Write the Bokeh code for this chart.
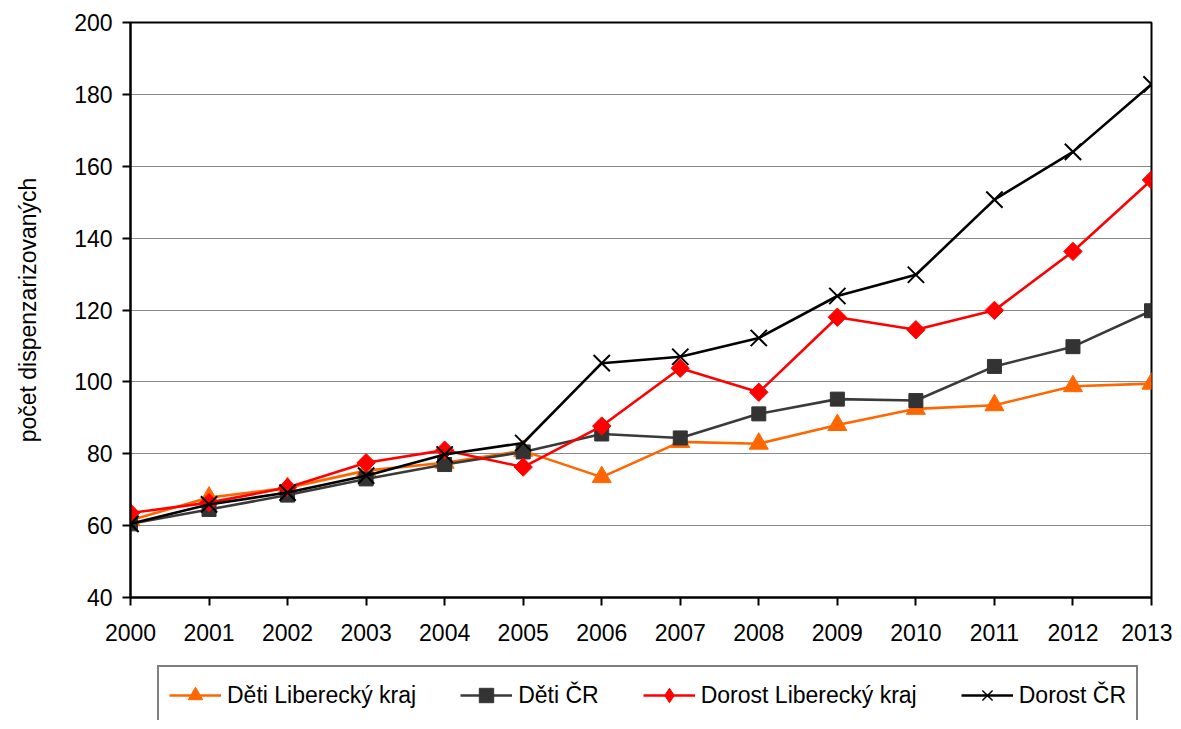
from bokeh.plotting import figure
from bokeh.layouts import column
from bokeh.models import FixedTicker, Legend, LegendItem, Range1d
from bokeh.embed import file_html
from bokeh.resources import INLINE

years = list(range(2000, 2014))
deti_lib = [61.5, 67.8, 70.5, 75.3, 77.5, 80.8, 73.5, 83.3, 82.8, 88.0, 92.5, 93.5, 98.8, 99.5]
deti_cr = [60.5, 64.5, 68.5, 73.0, 77.0, 80.5, 85.5, 84.4, 91.1, 95.2, 94.8, 104.3, 109.8, 119.8]
dorost_lib = [63.5, 66.4, 70.6, 77.5, 81.0, 76.3, 87.7, 103.8, 97.1, 118.0, 114.5, 119.9, 136.3, 156.2]
dorost_cr = [60.5, 65.9, 69.2, 73.9, 79.8, 83.0, 105.2, 107.0, 112.2, 123.9, 129.8, 150.7, 164.0, 182.8]
y_ticks = [40, 60, 80, 100, 120, 140, 160, 180, 200]
labels = ["Děti Liberecký kraj", "Děti ČR", "Dorost Liberecký kraj", "Dorost ČR"]
y_title = "počet dispenzarizovaných"

FONT = "Liberation Sans"
colors = ["#FF6600", "#3A3A3A", "#FF0000", "black"]
fills = ["#FF6600", "#333333", "#FF0000", "black"]

W = 1172
p = figure(width=W, height=657, output_backend="svg", toolbar_location=None,
           x_range=Range1d(2000, 2013), y_range=Range1d(40, 200),
           min_border_left=130, min_border_right=21, min_border_top=22, min_border_bottom=60)
p.background_fill_color = "white"
p.border_fill_color = "white"
p.outline_line_color = "black"
p.outline_line_width = 2

# grid
p.xgrid.grid_line_color = None
p.ygrid.grid_line_color = "#111111"
p.ygrid.grid_line_dash = "1 1"
p.ygrid.grid_line_width = 1

# axes
p.xaxis.ticker = FixedTicker(ticks=years)
p.yaxis.ticker = FixedTicker(ticks=y_ticks)
for ax in (p.xaxis[0], p.yaxis[0]):
    ax.axis_line_color = "black"
    ax.axis_line_width = 2
    ax.major_tick_line_color = "black"
    ax.major_tick_line_width = 2
    ax.major_tick_in = 0
    ax.major_tick_out = 8
    ax.minor_tick_line_color = None
    ax.major_label_text_font = FONT
    ax.major_label_text_font_size = "23px"
    ax.major_label_text_color = "black"
p.xaxis.major_label_standoff = 18
p.yaxis.major_label_standoff = 10
p.yaxis.axis_label = y_title
p.yaxis.axis_label_text_font = FONT
p.yaxis.axis_label_text_font_size = "23px"
p.yaxis.axis_label_text_font_style = "normal"
p.yaxis.axis_label_text_color = "black"
p.yaxis.axis_label_standoff = 30

lw = 2.6
series = [deti_lib, deti_cr, dorost_lib, dorost_cr]
marker_kw = [
    dict(marker="triangle", size=19),
    dict(marker="square", size=14),
    dict(marker="square", angle=0.785398, size=13),
    dict(marker="x", size=23, line_width=2),
]
legend_markers = ["triangle", "square", "diamond", "x"]
for vals, c, f, mk in zip(series, colors, fills, marker_kw):
    p.line(years, vals, line_color=c, line_width=lw)
    p.scatter(years, vals, fill_color=f, line_color=f, **mk)

# legend strip below the chart (its frame is aligned with the chart's frame);
# the series are drawn here out of view only so that the legend has glyphs
p2 = figure(width=W, height=63, output_backend="svg", toolbar_location=None,
            x_range=Range1d(0, 1), y_range=Range1d(0, 1),
            min_border_left=130, min_border_right=21, min_border_top=0, min_border_bottom=0)
p2.axis.visible = False
p2.grid.grid_line_color = None
p2.outline_line_color = None
p2.background_fill_color = "white"
p2.border_fill_color = "white"

items = []
for lab, vals, c, f, lm in zip(labels, series, colors, fills, legend_markers):
    lr = p2.line(years, vals, line_color=c, line_width=lw)
    mr = p2.scatter(years, vals, marker=lm, fill_color=f, line_color=f,
                    line_width=(1.5 if lm == "x" else 1))
    items.append(LegendItem(label=lab, renderers=[lr, mr]))

legend = Legend(items=items, orientation="horizontal", location=(27, -5))
legend.label_text_font = FONT
legend.label_text_font_size = "23px"
legend.label_text_color = "black"
legend.glyph_width = 52
legend.glyph_height = 36
legend.label_standoff = 6
legend.spacing = 44
legend.padding = 10
legend.margin = 0
legend.border_line_color = "black"
legend.border_line_width = 2
legend.background_fill_color = "white"
legend.background_fill_alpha = 1
p2.add_layout(legend, "center")

layout = column(p, p2, spacing=0)
open("out.html", "w").write(file_html(layout, INLINE))
